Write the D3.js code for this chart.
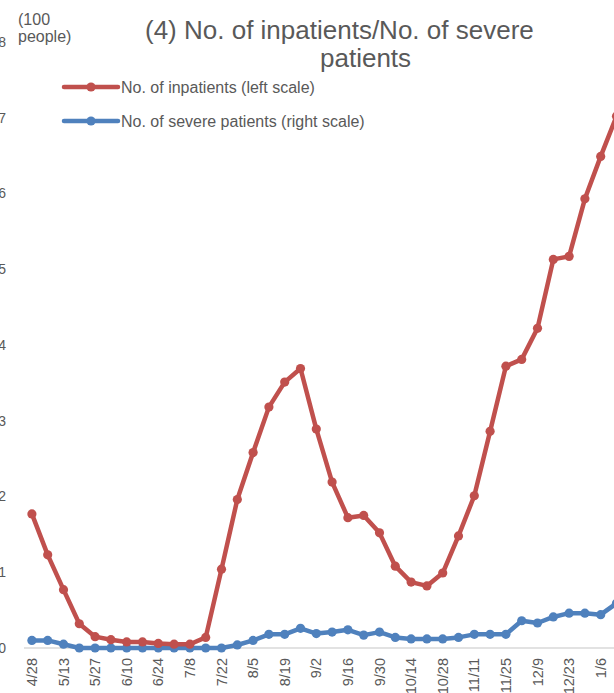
<!DOCTYPE html>
<html>
<head>
<meta charset="utf-8">
<script src="https://cdn.jsdelivr.net/npm/d3@7"></script>
<style>
  html, body { margin: 0; padding: 0; background: #fff; overflow: hidden; }
  svg { display: block; font-family: "Liberation Sans", Arial, sans-serif; }
</style>
</head>
<body>
<svg id="chart" width="614" height="693"></svg>
<script>
const categories = ["4/28","5/6","5/13","5/20","5/27","6/3","6/10","6/17","6/24","7/1","7/8","7/15","7/22","7/29","8/5","8/12","8/19","8/26","9/2","9/9","9/16","9/23","9/30","10/7","10/14","10/21","10/28","11/4","11/11","11/18","11/25","12/2","12/9","12/16","12/23","12/30","1/6","1/13"];
const inpatients = [1.77,1.23,0.77,0.32,0.15,0.11,0.08,0.08,0.06,0.05,0.05,0.14,1.04,1.96,2.58,3.18,3.51,3.69,2.89,2.19,1.72,1.75,1.52,1.08,0.87,0.82,0.99,1.48,2.01,2.86,3.72,3.81,4.22,5.13,5.17,5.93,6.49,7.02];
const severe = [10,10,5,0,0,0,0,0,0,0,0,0,0,4,10,18,18,26,19,21,24,17,21,14,12,12,12,14,18,18,18,36,33,41,46,46,44,59];
const leftTicks = [0,1,2,3,4,5,6,7,8];
const seriesNames = ["No. of inpatients (left scale)", "No. of severe patients (right scale)"];
const colors = ["#C0504D", "#4F81BD"];
const titleLines = ["(4) No. of inpatients/No. of severe", "patients"];
const unitLines = ["(100", "people)"];

const svg = d3.select("#chart");
const textColor = "#595959";

const x = d3.scalePoint().domain(categories).range([24, 624.4]).padding(0.5);
const yL = d3.scaleLinear().domain([0, 8]).range([648, 42]);
const yR = d3.scaleLinear().domain([0, 800]).range([648, 42]);

// left axis labels
svg.append("g").selectAll("text").data(leftTicks).join("text")
  .attr("x", 6).attr("y", d => yL(d)).attr("dy", "0.35em")
  .attr("text-anchor", "end").attr("fill", textColor).attr("font-size", 14)
  .text(d => d);

// baseline
svg.append("line").attr("x1", 24).attr("x2", 614).attr("y1", yL(0)).attr("y2", yL(0))
  .attr("stroke", "#D9D9D9").attr("stroke-width", 1.3);

// x labels every 2 categories
svg.append("g").selectAll("text").data(categories.filter((d, i) => i % 2 === 0)).join("text")
  .attr("transform", d => `translate(${x(d)},${yL(0) + 10}) rotate(-90)`)
  .attr("dy", "0.35em").attr("text-anchor", "end")
  .attr("fill", textColor).attr("font-size", 14.5)
  .text(d => d);

// lines
function drawSeries(vals, yScale, color) {
  const line = d3.line().x((d, i) => x(categories[i])).y(d => yScale(d));
  svg.append("path").datum(vals).attr("d", line)
    .attr("fill", "none").attr("stroke", color).attr("stroke-width", 4.5)
    .attr("stroke-linejoin", "round");
  svg.append("g").selectAll("circle").data(vals).join("circle")
    .attr("cx", (d, i) => x(categories[i])).attr("cy", d => yScale(d))
    .attr("r", 4.6).attr("fill", color);
}
drawSeries(severe, yR, colors[1]);
drawSeries(inpatients, yL, colors[0]);

// unit label
svg.append("g").selectAll("text").data(unitLines).join("text")
  .attr("x", 18).attr("y", (d, i) => 25 + i * 17)
  .attr("fill", textColor).attr("font-size", 16).text(d => d);

// title
svg.append("text").attr("x", 145).attr("y", 39).attr("fill", textColor)
  .attr("font-size", 26).text(titleLines[0]);
svg.append("text").attr("x", 320).attr("y", 67).attr("fill", textColor)
  .attr("font-size", 26).text(titleLines[1]);

// legend
const legend = svg.append("g");
seriesNames.forEach((name, i) => {
  const ly = 87 + i * 34;
  legend.append("line").attr("x1", 64).attr("x2", 118).attr("y1", ly).attr("y2", ly)
    .attr("stroke", colors[i]).attr("stroke-width", 4.5).attr("stroke-linecap", "round");
  legend.append("circle").attr("cx", 91).attr("cy", ly).attr("r", 4.6).attr("fill", colors[i]);
  legend.append("text").attr("x", 121).attr("y", ly).attr("dy", "0.35em")
    .attr("fill", textColor).attr("font-size", 16).text(name);
});
</script>
</body>
</html>
